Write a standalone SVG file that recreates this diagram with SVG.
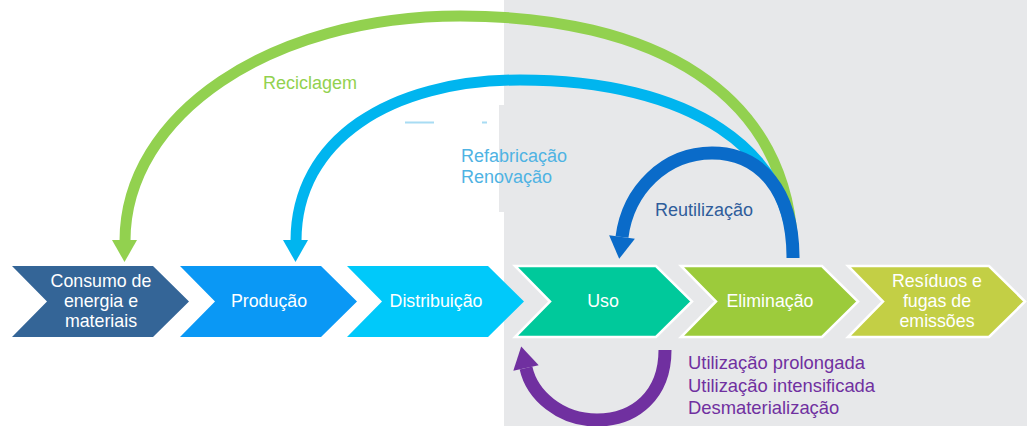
<svg xmlns="http://www.w3.org/2000/svg" width="1027" height="426" viewBox="0 0 1027 426">
<style>
.lbl{font-family:"Liberation Sans",Arial,sans-serif;font-size:17.8px;fill:#ffffff;text-anchor:middle}
.cap{font-family:"Liberation Sans",Arial,sans-serif;font-size:18px}
.pur{font-family:"Liberation Sans",Arial,sans-serif;font-size:18.4px;fill:#7030a0}
.arc{fill:none;stroke-linecap:butt}
.wb{stroke:#ffffff;stroke-width:2.5;stroke-linejoin:miter}
</style>
<defs>
<path id="chev" d="M0,0 L141,0 L177,35.5 L141,71 L0,71 L35,35.5 Z"/>
</defs>
<rect x="0" y="0" width="1027" height="426" fill="#ffffff"/>
<rect x="504" y="0" width="523" height="426" fill="#e7e8ea"/>
<rect x="499" y="105" width="6" height="107" fill="#e7e8ea"/>
<rect x="405" y="121.5" width="29" height="2" fill="#a8dcf3"/>
<rect x="482" y="121.5" width="5" height="2" fill="#a8dcf3"/>

<g id="n1"><use href="#chev" x="12" y="266" fill="#346597"/>
<text class="lbl" x="101" y="287">Consumo de</text><text class="lbl" x="101" y="307">energia e</text><text class="lbl" x="101" y="327">materiais</text></g>
<g id="n2"><use href="#chev" x="180" y="266" fill="#0a98f5"/>
<text class="lbl" x="269" y="307">Produção</text></g>
<g id="n3"><use href="#chev" x="347" y="266" fill="#00c9fa"/>
<text class="lbl" x="436" y="307">Distribuição</text></g>
<g id="n4"><use href="#chev" class="wb" x="515" y="266" fill="#00c99b"/>
<text class="lbl" x="603" y="307">Uso</text></g>
<g id="n5"><use href="#chev" class="wb" x="681" y="266" fill="#9ccb3b"/>
<text class="lbl" x="770" y="307">Eliminação</text></g>
<g id="n6"><use href="#chev" class="wb" x="848" y="266" fill="#c3cf45"/>
<text class="lbl" x="937" y="287">Resíduos e</text><text class="lbl" x="937" y="307">fugas de</text><text class="lbl" x="937" y="327">emissões</text></g>

<g id="connectors">
<path class="arc" d="M793,258 C793,90 650,16 460,16 C270,16 125,115 125,241" stroke="#92d14f" stroke-width="11"/>
<polygon points="112,240 137,240 124.5,262" fill="#92d14f"/>
<path class="arc" d="M793,258 C793,150 690,80 520,80 C390,80 296,140 296,241" stroke="#00b5ef" stroke-width="11"/>
<polygon points="283,240 308,240 295.5,262" fill="#00b5ef"/>
<path class="arc" d="M793,258 C793,190 760,153 712,153 C665,153 628,190 622,237" stroke="#0a6bc9" stroke-width="13"/>
<polygon points="609.1,235.3 634.9,238.7 619.2,258.8" fill="#0a6bc9"/>
<path class="arc" d="M665,350 C665,395 635,420 597,420 C560,420 532,395 526,368" stroke="#7030a0" stroke-width="13"/>
<polygon points="538.7,365.2 513.3,370.8 521.2,346.5" fill="#7030a0"/>
</g>

<text class="cap" x="263" y="89" fill="#92d14f">Reciclagem</text>
<text class="cap" x="461" y="162" fill="#4fb3e3">Refabricação</text>
<text class="cap" x="461" y="183" fill="#4fb3e3">Renovação</text>
<text class="cap" x="655" y="216" fill="#2f5d9b">Reutilização</text>
<text class="pur" x="688" y="369">Utilização prolongada</text>
<text class="pur" x="688" y="392">Utilização intensificada</text>
<text class="pur" x="688" y="414">Desmaterialização</text>
</svg>
